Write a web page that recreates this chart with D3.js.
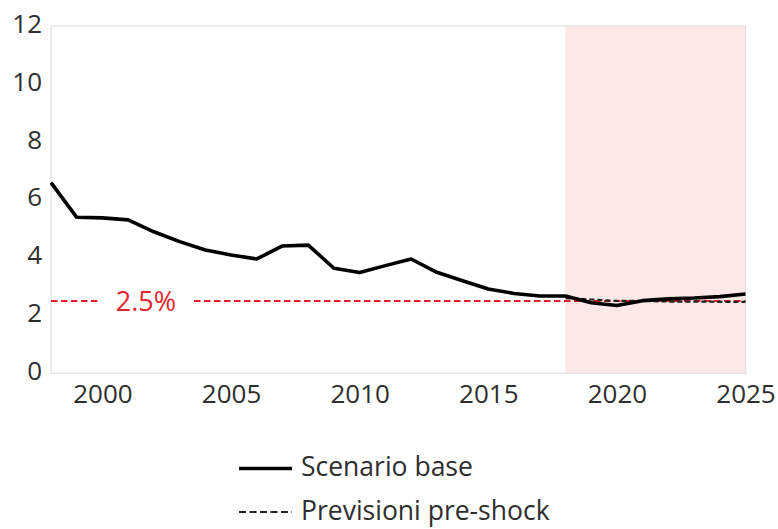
<!DOCTYPE html>
<html>
<head>
<meta charset="utf-8">
<script src="https://cdn.jsdelivr.net/npm/d3@7"></script>
<style>
  html, body { margin: 0; padding: 0; background: #fff; }
  svg { display: block; font-family: "Open Sans", sans-serif; }
</style>
</head>
<body>
<svg id="chart" width="778" height="529"></svg>
<script>
// ---- data ----
const years = [1998,1999,2000,2001,2002,2003,2004,2005,2006,2007,2008,2009,2010,2011,2012,2013,2014,2015,2016,2017,2018,2019,2020,2021,2022,2023,2024,2025];
const scenarioBase = [6.59,5.39,5.37,5.30,4.89,4.55,4.26,4.09,3.95,4.40,4.43,3.63,3.48,3.72,3.95,3.49,3.20,2.91,2.76,2.67,2.67,2.44,2.34,2.51,2.57,2.60,2.65,2.74];
const preShockYears = [2018,2019,2020,2021,2022,2023,2024,2025];
const preShock = [2.6,2.55,2.5,2.5,2.48,2.48,2.47,2.47];
const targetValue = 2.5;
const targetLabel = "2.5%";
const shadeRange = [2018, 2025];
const yTicks = [0,2,4,6,8,10,12];
const xTicks = [2000,2005,2010,2015,2020,2025];
const legendLabels = ["Scenario base", "Previsioni pre-shock"];

// ---- layout ----
const svg = d3.select("#chart");
const plot = {left: 51, right: 745.5, top: 26, bottom: 373.3};
const x = d3.scaleLinear().domain([1998, 2025]).range([plot.left, plot.right]);
const y = d3.scaleLinear().domain([0, 12]).range([plot.bottom, plot.top]);
const textColor = "#2e2e2e";
const fw = 500;

// shaded forecast region
svg.append("rect")
  .attr("x", x(shadeRange[0])).attr("y", plot.top)
  .attr("width", x(shadeRange[1]) - x(shadeRange[0]))
  .attr("height", plot.bottom - plot.top)
  .attr("fill", "#fde8e8");

// plot border
svg.append("rect")
  .attr("x", plot.left).attr("y", plot.top)
  .attr("width", plot.right - plot.left).attr("height", plot.bottom - plot.top)
  .attr("fill", "none").attr("stroke", "#e2e2e2").attr("stroke-width", 1.2);

// y axis
const yAxis = d3.axisLeft(y).tickValues(yTicks).tickSize(0).tickPadding(9);
const gy = svg.append("g").attr("transform", `translate(${plot.left},0)`).call(yAxis);
gy.select(".domain").remove();
gy.selectAll("text")
  .attr("fill", textColor).attr("font-size", 26).attr("font-weight", fw).attr("dy", "0.24em")
  .attr("font-family", "Open Sans");

// x axis
const xAxis = d3.axisBottom(x).tickValues(xTicks).tickFormat(d3.format("d")).tickSize(0).tickPadding(14);
const gx = svg.append("g").attr("transform", `translate(0,${plot.bottom})`).call(xAxis);
gx.select(".domain").remove();
gx.selectAll("text")
  .attr("fill", textColor).attr("font-size", 26).attr("font-weight", fw).attr("dy", "0.62em")
  .attr("font-family", "Open Sans");

// target line (red dashed) with gap for label
const ty = y(targetValue);
const redColor = "#e0202a";
[[plot.left, 98], [194, plot.right]].forEach(seg => {
  svg.append("line")
    .attr("x1", seg[0]).attr("x2", seg[1]).attr("y1", ty).attr("y2", ty)
    .attr("stroke", redColor).attr("stroke-width", 2)
    .attr("stroke-dasharray", "6.5,3.5");
});
svg.append("text")
  .attr("x", 146).attr("y", ty + 10)
  .attr("text-anchor", "middle")
  .attr("fill", "#e3262e").attr("font-size", 27).attr("font-weight", fw)
  .text(targetLabel);

// pre-shock forecast (dark dashed)
const preLine = d3.line().x((d, i) => x(preShockYears[i])).y(d => y(d));
svg.append("path")
  .datum(preShock)
  .attr("d", preLine)
  .attr("fill", "none").attr("stroke", "#222").attr("stroke-width", 2.2)
  .attr("stroke-dasharray", "5,3");

// scenario base (solid)
const baseLine = d3.line().x((d, i) => x(years[i])).y(d => y(d));
svg.append("path")
  .datum(scenarioBase)
  .attr("d", baseLine)
  .attr("fill", "none").attr("stroke", "#000").attr("stroke-width", 3.6)
  .attr("stroke-linejoin", "round");

// legend
const legend = svg.append("g");
const legRows = [
  {label: legendLabels[0], y: 468.5, dash: null, width: 3.6, color: "#000"},
  {label: legendLabels[1], y: 512, dash: "7,3.5", width: 2.2, color: "#222"}
];
legRows.forEach(r => {
  legend.append("line")
    .attr("x1", 239).attr("x2", 292).attr("y1", r.y).attr("y2", r.y)
    .attr("stroke", r.color).attr("stroke-width", r.width)
    .attr("stroke-dasharray", r.dash);
  legend.append("text")
    .attr("x", 301).attr("y", r.y + 7.5)
    .attr("fill", textColor).attr("font-size", 26.5).attr("font-weight", fw)
    .text(r.label);
});
</script>
</body>
</html>
